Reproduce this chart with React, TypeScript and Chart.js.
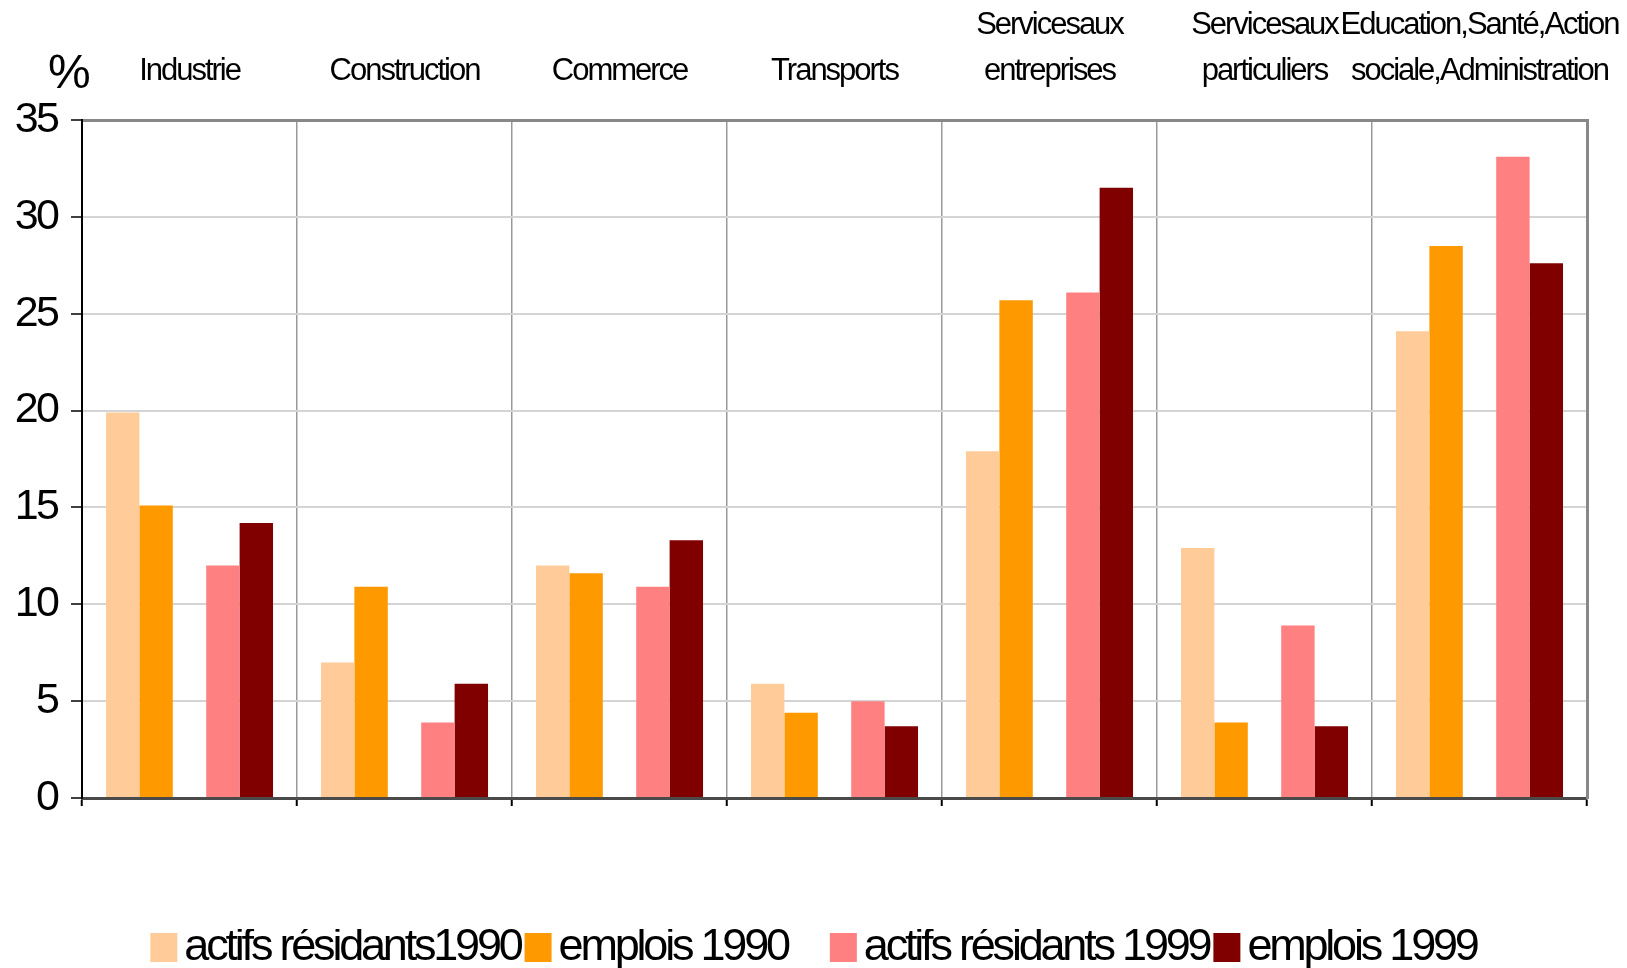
import React, { useEffect, useRef } from "react";
import { Chart, registerables } from "chart.js";

Chart.register(...registerables);

const categories: string[][] = [
  ["Industrie"],
  ["Construction"],
  ["Commerce"],
  ["Transports"],
  ["Servicesaux", "entreprises"],
  ["Servicesaux", "particuliers"],
  ["Education,Santé,Action", "sociale,Administration"],
];

const actifs1990 = [19.9, 7.0, 12.0, 5.9, 17.9, 12.9, 24.1];
const emplois1990 = [15.1, 10.9, 11.6, 4.4, 25.7, 3.9, 28.5];
const actifs1999 = [12.0, 3.9, 10.9, 5.0, 26.1, 8.9, 33.1];
const emplois1999 = [14.2, 5.9, 13.3, 3.7, 31.5, 3.7, 27.6];
const gapSlot = [null, null, null, null, null, null, null];

const seriesLabels = [
  "actifs résidants1990",
  "emplois 1990",
  "",
  "actifs résidants 1999",
  "emplois 1999",
];
const seriesColors = ["#FFCC99", "#FF9900", "rgba(0,0,0,0)", "#FF8080", "#800000"];
const yTicks = [0, 5, 10, 15, 20, 25, 30, 35];

const FONT = "'Liberation Sans', Arial, sans-serif";
const LEGEND_ALIAS = "LegendFace";
const LEGEND_REAL = "45px 'Liberation Sans', Arial, sans-serif";

// Tight letter spacing like the original rendering; legend alias maps to its real font
function tightenContext(ctx: any) {
  const desc = Object.getOwnPropertyDescriptor(
    CanvasRenderingContext2D.prototype,
    "font"
  );
  if (!desc || !desc.set || !desc.get) return;
  Object.defineProperty(ctx, "font", {
    configurable: true,
    get() {
      return desc.get!.call(this);
    },
    set(v: string) {
      let real = v;
      let isLegend = false;
      if (typeof v === "string" && v.indexOf(LEGEND_ALIAS) >= 0) {
        real = LEGEND_REAL;
        isLegend = true;
      }
      desc.set!.call(this, real);
      const m = /(\d+(?:\.\d+)?)px/.exec(real);
      if (m && "letterSpacing" in this) {
        const size = parseFloat(m[1]);
        const sp = isLegend ? -3.2 : -0.065 * size;
        (this as any).letterSpacing = sp.toFixed(2) + "px";
      }
    },
  });
}

const percentPlugin = {
  id: "percentLabel",
  afterDraw(chart: any) {
    const ctx = chart.ctx;
    ctx.save();
    ctx.fillStyle = "#000";
    ctx.font = `48px 'Liberation Sans', Arial, sans-serif`;
    ctx.textAlign = "left";
    ctx.textBaseline = "alphabetic";
    ctx.fillText("%", 48, 88);
    ctx.restore();
  },
};

export default function App() {
  const ref = useRef<HTMLCanvasElement | null>(null);
  useEffect(() => {
    if (!ref.current) return;
    const ctx2d = ref.current.getContext("2d");
    if (ctx2d) tightenContext(ctx2d);
    const values = [actifs1990, emplois1990, gapSlot, actifs1999, emplois1999];
    const chart = new Chart(ref.current, {
      type: "bar",
      data: {
        labels: categories.map((c) => c.join(" ")),
        datasets: values.map((d, i) => ({
          label: seriesLabels[i],
          data: d as any,
          backgroundColor: seriesColors[i],
          borderColor: "rgba(0,0,0,0)",
          borderWidth: 0,
          categoryPercentage: 0.777,
          barPercentage: 1.0,
          xAxisID: "x",
          yAxisID: "y",
        })),
      },
      options: {
        animation: false,
        responsive: true,
        maintainAspectRatio: false,
        layout: { padding: 0 },
        plugins: {
          tooltip: { enabled: false },
          legend: {
            position: "bottom",
            labels: {
              boxWidth: 27,
              boxHeight: 29,
              padding: 4,
              color: "#000",
              font: { family: LEGEND_ALIAS, size: 14 },
            },
          },
        },
        scales: {
          x: {
            type: "category",
            position: "bottom",
            offset: true,
            afterFit: (s: any) => {
              s.height = 131;
              s.paddingLeft = 0;
              s.paddingRight = 0;
            },
            ticks: { display: false },
            grid: {
              display: true,
              offset: true,
              color: "#999999",
              lineWidth: 1.5,
              drawTicks: true,
              tickLength: 8,
              tickColor: "#000000",
              tickWidth: 2,
            },
            border: { display: true, color: "#4a4a4a", width: 3 },
          },
          x2: {
            type: "category",
            position: "top",
            labels: categories as any,
            offset: true,
            afterFit: (s: any) => {
              s.height = 120;
              s.paddingLeft = 0;
              s.paddingRight = 0;
            },
            grid: { display: false, drawTicks: false },
            border: { display: true, color: "#888888", width: 3 },
            ticks: {
              color: "#000",
              padding: 25,
              maxRotation: 0,
              autoSkip: false,
              font: { family: FONT, size: 31, lineHeight: 1.5 },
            },
          },
          y: {
            type: "linear",
            position: "left",
            min: 0,
            max: 35,
            afterFit: (s: any) => {
              s.width = 82;
              s.paddingTop = 0;
              s.paddingBottom = 0;
            },
            afterBuildTicks: (s: any) => {
              s.ticks = yTicks.map((v) => ({ value: v }));
            },
            ticks: {
              color: "#000",
              padding: 14,
              font: { family: FONT, size: 43 },
            },
            grid: {
              color: "#d4d4d4",
              lineWidth: 2,
              tickLength: 11,
              tickColor: "#000000",
              tickWidth: 1.5,
            },
            border: { display: true, color: "#000000", width: 2 },
          },
          y2: {
            type: "linear",
            position: "right",
            min: 0,
            max: 35,
            afterFit: (s: any) => {
              s.width = 40;
              s.paddingTop = 0;
              s.paddingBottom = 0;
            },
            ticks: { display: false },
            grid: { display: false, drawTicks: false },
            border: { display: true, color: "#888888", width: 3 },
          },
        },
      },
      plugins: [percentPlugin],
    });
    return () => chart.destroy();
  }, []);

  return (
    <div
      style={{
        position: "absolute",
        left: 0,
        top: 0,
        width: 1627,
        height: 968,
        overflow: "hidden",
        background: "#fff",
      }}
    >
      <div style={{ position: "relative", width: 1627, height: 972 }}>
        <canvas ref={ref} />
      </div>
    </div>
  );
}
